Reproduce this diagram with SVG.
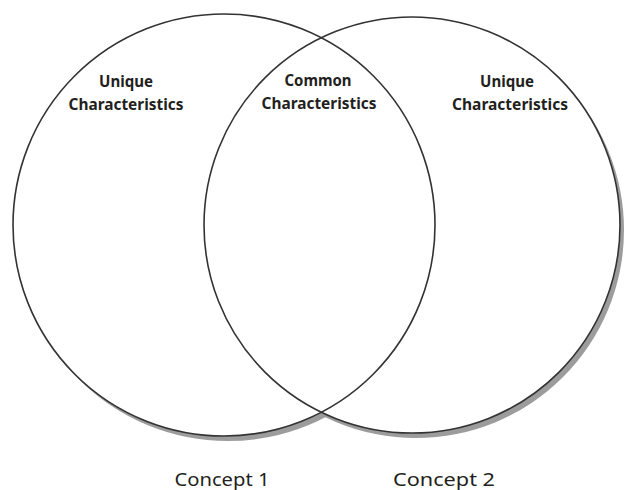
<svg xmlns="http://www.w3.org/2000/svg" width="624" height="490" viewBox="0 0 624 490">
<style>
.shadow{fill:#9c9c9c;stroke:none}
.body{fill:#fff;stroke:none}
.ring{fill:none;stroke:#333;stroke-width:1.6}
.head{font-family:"Noto Sans","Open Sans",sans-serif;font-weight:bold;font-size:16px;fill:#231f20;text-anchor:middle}
.cap{font-family:"Noto Sans","Open Sans",sans-serif;font-size:18px;fill:#231f20;text-anchor:middle}
</style>
<rect width="624" height="490" fill="#fff"/>
<g id="shadows">
<circle class="shadow" cx="228" cy="230" r="211"/>
<circle class="shadow" cx="416" cy="230" r="208"/>
</g>
<g id="fills">
<circle class="body" cx="224" cy="225" r="211"/>
<circle class="body" cx="412" cy="225" r="208"/>
</g>
<g id="concept1">
<circle class="ring" cx="224" cy="225" r="211"/>
<text class="head" x="126" y="87" textLength="54" lengthAdjust="spacingAndGlyphs">Unique</text>
<text class="head" x="126" y="110" textLength="115" lengthAdjust="spacingAndGlyphs">Characteristics</text>
<text class="cap" x="222" y="486" textLength="95" lengthAdjust="spacingAndGlyphs">Concept 1</text>
</g>
<g id="concept2">
<circle class="ring" cx="412" cy="225" r="208"/>
<text class="head" x="507" y="87" textLength="54" lengthAdjust="spacingAndGlyphs">Unique</text>
<text class="head" x="510" y="110" textLength="116" lengthAdjust="spacingAndGlyphs">Characteristics</text>
<text class="cap" x="444" y="486" textLength="102" lengthAdjust="spacingAndGlyphs">Concept 2</text>
</g>
<g id="common">
<text class="head" x="318" y="86" textLength="67" lengthAdjust="spacingAndGlyphs">Common</text>
<text class="head" x="319" y="109" textLength="115" lengthAdjust="spacingAndGlyphs">Characteristics</text>
</g>
</svg>
